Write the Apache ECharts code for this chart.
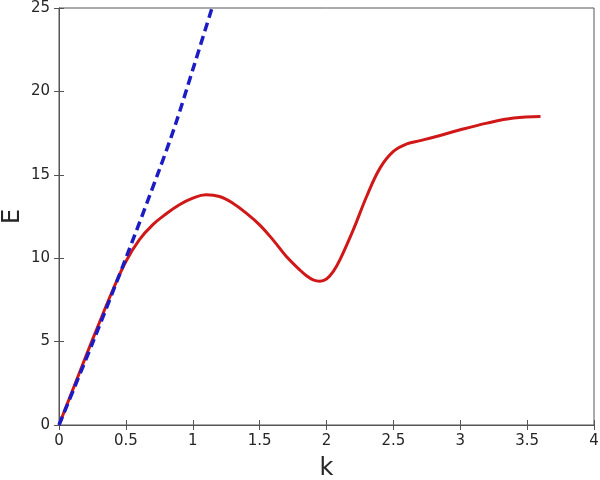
<!DOCTYPE html>
<html>
<head>
<meta charset="utf-8">
<script src="https://cdn.jsdelivr.net/npm/echarts@6/dist/echarts.min.js"></script>
<style>
	html, body { margin: 0; padding: 0; background: #fff; }
	#chart { width: 600px; height: 480px; }
</style>
</head>
<body>
<div id="chart"></div>
<script>
	// dispersion curve (red)
	var kValues = [0, 0.1, 0.2, 0.3, 0.4, 0.5, 0.6, 0.7, 0.8, 0.9, 1.0, 1.1, 1.2, 1.3, 1.4, 1.5, 1.6, 1.7, 1.8, 1.85, 1.9, 1.95, 2.0, 2.05, 2.1, 2.2, 2.3, 2.4, 2.5, 2.6, 2.7, 2.8, 3.0, 3.2, 3.4, 3.6];
	var eValues = [0, 2.05, 4.1, 6.1, 8.05, 9.8, 11.1, 12.0, 12.65, 13.2, 13.6, 13.8, 13.7, 13.3, 12.7, 12.0, 11.1, 10.1, 9.3, 8.95, 8.7, 8.62, 8.75, 9.2, 9.9, 11.7, 13.7, 15.4, 16.4, 16.85, 17.05, 17.25, 17.7, 18.1, 18.4, 18.5];

	// linear (phonon) branch, blue dashed
	var lineK = [0, 0.25, 0.5, 0.75, 0.87, 1.0, 1.144];
	var lineE = [0, 4.9, 10.0, 15.3, 18.0, 21.3, 25];

	var xTicks = [0, 0.5, 1, 1.5, 2, 2.5, 3, 3.5, 4];
	var yTicks = [0, 5, 10, 15, 20, 25];

	function pairs(xs, ys) {
		return xs.map(function(x, i) { return [x, ys[i]]; });
	}

	var axisColor = '#555';
	var labelColor = '#262626';

	var option = {
		animation: false,
		backgroundColor: '#fff',
		grid: {
			left: 59,
			right: 6,
			top: 8,
			bottom: 55,
			outerBoundsMode: 'none',
			containLabel: false,
			show: true,
			borderColor: axisColor,
			borderWidth: 1
		},
		xAxis: [{
			type: 'value',
			min: xTicks[0],
			max: xTicks[xTicks.length - 1],
			interval: 0.5,
			name: 'k',
			nameLocation: 'middle',
			nameGap: 32,
			nameMoveOverlap: false,
			nameTextStyle: { fontFamily: 'DejaVu Sans', fontSize: 24, color: labelColor },
			axisLine: { show: true, onZero: false, lineStyle: { color: axisColor } },
			axisTick: { show: true, inside: true, length: 5, lineStyle: { color: axisColor } },
			axisLabel: { fontFamily: 'DejaVu Sans', fontSize: 15, color: labelColor, margin: 9 },
			splitLine: { show: false }
		}, {
			type: 'value',
			position: 'top',
			min: xTicks[0],
			max: xTicks[xTicks.length - 1],
			interval: 0.5,
			axisLine: { show: true, lineStyle: { color: axisColor } },
			axisTick: { show: true, inside: true, length: 5, lineStyle: { color: axisColor } },
			axisLabel: { show: false },
			splitLine: { show: false }
		}],
		yAxis: [{
			type: 'value',
			min: yTicks[0],
			max: yTicks[yTicks.length - 1],
			interval: 5,
			name: 'E',
			nameLocation: 'middle',
			nameGap: 34,
			nameRotate: 90,
			nameMoveOverlap: false,
			nameTextStyle: { fontFamily: 'DejaVu Sans', fontSize: 24, color: labelColor },
			axisLine: { show: true, onZero: false, lineStyle: { color: axisColor } },
			axisTick: { show: true, inside: true, length: 5, lineStyle: { color: axisColor } },
			axisLabel: { fontFamily: 'DejaVu Sans', fontSize: 15, color: labelColor, margin: 9 },
			splitLine: { show: false }
		}, {
			type: 'value',
			position: 'right',
			min: yTicks[0],
			max: yTicks[yTicks.length - 1],
			interval: 5,
			axisLine: { show: true, lineStyle: { color: axisColor } },
			axisTick: { show: true, inside: true, length: 5, lineStyle: { color: axisColor } },
			axisLabel: { show: false },
			splitLine: { show: false }
		}],
		series: [{
			name: 'curve',
			type: 'line',
			smooth: 0.4,
			showSymbol: false,
			lineStyle: { color: '#d01818', width: 3 },
			data: pairs(kValues, eValues),
			z: 2
		}, {
			name: 'linear',
			type: 'line',
			smooth: 0.3,
			showSymbol: false,
			lineStyle: { color: '#1c1cc4', width: 3.5, type: [9, 5] },
			data: pairs(lineK, lineE),
			z: 3
		}]
	};

	var myChart = echarts.init(document.getElementById('chart'));
	myChart.setOption(option);
</script>
</body>
</html>
